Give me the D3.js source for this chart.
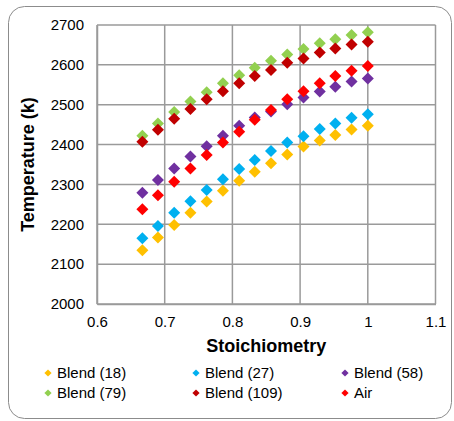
<!DOCTYPE html>
<html>
<head>
<meta charset="utf-8">
<script src="https://cdn.jsdelivr.net/npm/d3@7"></script>
<style>
  html, body { margin: 0; padding: 0; background: #fff; }
  svg { display: block; }
  text { font-family: "Liberation Sans", Arial, sans-serif; fill: #000; }
</style>
</head>
<body>
<div id="chart"></div>
<script>
// Adiabatic flame temperature versus stoichiometry for several blends
const stoichiometry = [0.667, 0.690, 0.714, 0.738, 0.762, 0.786, 0.810, 0.833, 0.857, 0.881, 0.905, 0.929, 0.952, 0.976, 1.000];

const blend18  = [2135, 2167, 2198, 2229, 2257, 2284, 2309, 2332, 2353, 2375, 2395, 2410, 2424, 2438, 2447];
const blend27  = [2165, 2196, 2229, 2258, 2286, 2313, 2339, 2361, 2384, 2405, 2421, 2439, 2453, 2467, 2476];
const blend58  = [2279, 2311, 2340, 2370, 2396, 2422, 2447, 2468, 2483, 2501, 2518, 2533, 2545, 2558, 2566];
const blend79  = [2422, 2453, 2482, 2508, 2531, 2554, 2574, 2593, 2610, 2626, 2640, 2654, 2664, 2675, 2682];
const blend109 = [2407, 2437, 2465, 2489, 2514, 2534, 2554, 2572, 2587, 2605, 2616, 2631, 2641, 2651, 2658];
const air      = [2238, 2273, 2307, 2340, 2374, 2405, 2432, 2462, 2487, 2514, 2534, 2554, 2572, 2585, 2597];

const seriesNames  = ["Blend (18)", "Blend (27)", "Blend (58)", "Blend (79)", "Blend (109)", "Air"];
const seriesValues = [blend18, blend27, blend58, blend79, blend109, air];
const seriesColors = ["#FFC000", "#00B0F0", "#7030A0", "#92D050", "#C00000", "#FF0000"];

const xTicks = [0.6, 0.7, 0.8, 0.9, 1.0, 1.1];
const yTicks = [2000, 2100, 2200, 2300, 2400, 2500, 2600, 2700];

const W = 454, H = 421;
const plot = { left: 97, right: 435.5, top: 25, bottom: 304 };

const svg = d3.select("#chart").append("svg")
  .attr("width", W).attr("height", H);

// chart frame
svg.append("rect")
  .attr("x", 8.5).attr("y", 6.5)
  .attr("width", 443).attr("height", 412)
  .attr("rx", 16).attr("ry", 16)
  .attr("fill", "#fff").attr("stroke", "#8c8c8c").attr("stroke-width", 1);

const x = d3.scaleLinear().domain([0.6, 1.1]).range([plot.left, plot.right]);
const y = d3.scaleLinear().domain([2000, 2700]).range([plot.bottom, plot.top]);

// gridlines
const grid = svg.append("g");
grid.selectAll("line.v").data(xTicks).join("line")
  .attr("x1", d => x(d)).attr("x2", d => x(d))
  .attr("y1", plot.top).attr("y2", plot.bottom)
  .attr("stroke", "#9a9a9a").attr("stroke-width", 1.5);
grid.selectAll("line.h").data(yTicks).join("line")
  .attr("x1", plot.left).attr("x2", plot.right)
  .attr("y1", d => y(d)).attr("y2", d => y(d))
  .attr("stroke", "#9a9a9a").attr("stroke-width", 1.5);

// axes
const xAxis = d3.axisBottom(x).tickValues(xTicks).tickSize(0).tickPadding(12)
  .tickFormat(d => d3.format("")(+d.toFixed(1)));
const gx = svg.append("g").attr("transform", `translate(0,${plot.bottom})`).call(xAxis);
gx.select(".domain").attr("stroke", "#9a9a9a").attr("stroke-width", 1.5);
gx.selectAll("text").attr("font-size", 15).attr("font-family", "Liberation Sans, Arial, sans-serif").attr("fill", "#000");

const yAxis = d3.axisLeft(y).tickValues(yTicks).tickSize(0).tickPadding(13).tickFormat(d3.format("d"));
const gy = svg.append("g").attr("transform", `translate(${plot.left},0)`).call(yAxis);
gy.select(".domain").attr("stroke", "#9a9a9a").attr("stroke-width", 1.5);
gy.selectAll("text").attr("font-size", 15).attr("font-family", "Liberation Sans, Arial, sans-serif").attr("fill", "#000");

// axis titles
svg.append("text")
  .attr("x", (plot.left + plot.right) / 2).attr("y", 352)
  .attr("text-anchor", "middle").attr("font-size", 18).attr("font-weight", "bold")
  .text("Stoichiometry");
svg.append("text")
  .attr("transform", `translate(34,${(plot.top + plot.bottom) / 2}) rotate(-90)`)
  .attr("text-anchor", "middle").attr("font-size", 18).attr("font-weight", "bold")
  .text("Temperature (k)");

// diamond marker path
const diamond = r => `M0,${-r}L${r},0L0,${r}L${-r},0Z`;

// markers
seriesValues.forEach((vals, i) => {
  svg.append("g").selectAll("path").data(vals).join("path")
    .attr("d", diamond(6))
    .attr("transform", (d, j) => `translate(${x(stoichiometry[j])},${y(d)})`)
    .attr("fill", seriesColors[i]);
});

// legend
const legendCols = [48, 196, 345];
const legendRows = [373, 393];
seriesNames.forEach((name, i) => {
  const lx = legendCols[i % 3], ly = legendRows[Math.floor(i / 3)];
  svg.append("path").attr("d", diamond(3.6))
    .attr("transform", `translate(${lx},${ly})`).attr("fill", seriesColors[i]);
  svg.append("text").attr("x", lx + 9).attr("y", ly).attr("dy", "0.35em")
    .attr("font-size", 15).text(name);
});
</script>
</body>
</html>
